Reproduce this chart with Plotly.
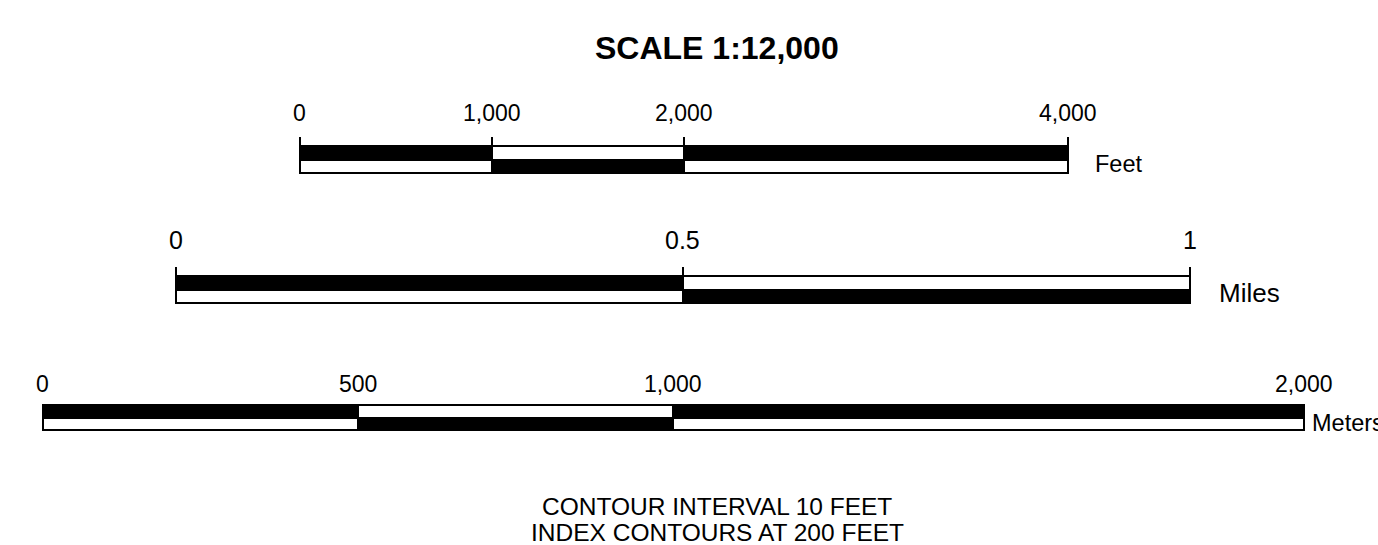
import plotly.graph_objects as go

# ---- data ----
title_text = "SCALE 1:12,000"
feet_ticks = [0, 1000, 2000, 4000]
feet_labels = ["0", "1,000", "2,000", "4,000"]
miles_ticks = [0, 0.5, 1]
miles_labels = ["0", "0.5", "1"]
meters_ticks = [0, 500, 1000, 2000]
meters_labels = ["0", "500", "1,000", "2,000"]
unit_names = ["Feet", "Miles", "Meters"]
footer_lines = ["CONTOUR INTERVAL 10 FEET", "INDEX CONTOURS AT 200 FEET"]

W, H = 1378, 545
FONT = "Liberation Sans, Arial, sans-serif"

# layout geometry (pixels): start px, end px of each bar
bars = {
    "x":  dict(ticks=feet_ticks, labels=feet_labels, p0=299.5, p1=1068.0,
               top=145.5, mid=159.5, bot=172.5, lab_y=113, lab_size=23,
               unit=unit_names[0], unit_x=1093, unit_y=164, unit_size=23.5, ticks_up=True),
    "x2": dict(ticks=miles_ticks, labels=miles_labels, p0=175.7, p1=1190.0,
               top=275.5, mid=289.5, bot=302.5, lab_y=240, lab_size=25,
               unit=unit_names[1], unit_x=1217, unit_y=293, unit_size=26, ticks_up=True),
    "x3": dict(ticks=meters_ticks, labels=meters_labels, p0=42.7, p1=1304.0,
               top=404.5, mid=417.5, bot=429.5, lab_y=384, lab_size=23,
               unit=unit_names[2], unit_x=1310, unit_y=423, unit_size=23.5, ticks_up=False),
}

fig = go.Figure()
annotations = []
layout_axes = {}

for ax, b in bars.items():
    t = b["ticks"]
    starts = t[:-1]
    lengths = [t[i + 1] - t[i] for i in range(len(t) - 1)]
    top_colors = ["black" if i % 2 == 0 else "white" for i in range(len(starts))]
    bot_colors = ["white" if i % 2 == 0 else "black" for i in range(len(starts))]
    for yc, h, cols in [((b["top"] + b["mid"]) / 2, b["mid"] - b["top"], top_colors),
                        ((b["mid"] + b["bot"]) / 2, b["bot"] - b["mid"], bot_colors)]:
        fig.add_trace(go.Bar(
            orientation="h", base=starts, x=lengths, y=[yc] * len(starts),
            width=[h] * len(starts), xaxis=ax, yaxis="y",
            marker=dict(color=cols, line=dict(color="black", width=2)),
            showlegend=False, hoverinfo="skip"))
    # axis scale from pixel geometry
    k = (b["p1"] - b["p0"]) / (t[-1] - t[0])
    rng = [t[0] - b["p0"] / k, t[0] + (W - b["p0"]) / k]
    key = "xaxis" if ax == "x" else "xaxis" + ax[1:]
    axd = dict(range=rng, domain=[0, 1], anchor="free", position=1 - b["top"] / H,
               side="top", showgrid=False, zeroline=False, showline=False,
               showticklabels=False, tickvals=t,
               ticks="outside" if b["ticks_up"] else "", ticklen=9, tickwidth=2,
               tickcolor="black", fixedrange=True)
    if ax != "x":
        axd["overlaying"] = "x"
    layout_axes[key] = axd
    for v, lab in zip(t, b["labels"]):
        annotations.append(dict(x=v, y=b["lab_y"], xref=ax, yref="y", text=lab,
                                showarrow=False, xanchor="center", yanchor="middle",
                                font=dict(family=FONT, size=b["lab_size"], color="black")))
    annotations.append(dict(x=b["unit_x"] / W, y=b["unit_y"], xref="paper", yref="y",
                            text=b["unit"], showarrow=False, xanchor="left",
                            yanchor="middle",
                            font=dict(family=FONT, size=b["unit_size"], color="black")))

annotations.append(dict(x=717 / W, y=48, xref="paper", yref="y", text="<b>" + title_text + "</b>",
                        showarrow=False, xanchor="center", yanchor="middle",
                        font=dict(family=FONT, size=32, color="black")))
for i, line in enumerate(footer_lines):
    annotations.append(dict(x=717 / W, y=506 + 26 * i, xref="paper", yref="y", text=line,
                            showarrow=False, xanchor="center", yanchor="middle",
                            font=dict(family=FONT, size=24.5, color="black")))

fig.update_layout(
    width=W, height=H, margin=dict(l=0, r=0, t=0, b=0, pad=0),
    paper_bgcolor="white", plot_bgcolor="white",
    barmode="overlay", bargap=0,
    yaxis=dict(range=[H, 0], domain=[0, 1], visible=False, fixedrange=True),
    annotations=annotations, showlegend=False,
    **layout_axes)

fig.write_html("out.html", config={"displayModeBar": False},
               post_script="document.body.style.margin='0';document.body.style.overflow='hidden';")
